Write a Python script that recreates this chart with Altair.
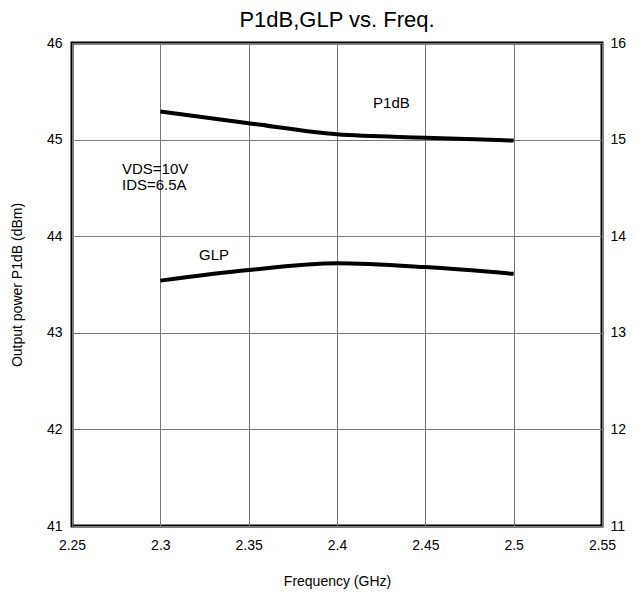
import altair as alt
import pandas as pd

freq = [2.3, 2.35, 2.4, 2.45, 2.5]
p1db = [45.29, 45.17, 45.055, 45.02, 44.99]
glp = [13.54, 13.65, 13.72, 13.68, 13.61]
x_ticks = [2.25, 2.3, 2.35, 2.4, 2.45, 2.5, 2.55]
left_ticks = [41, 42, 43, 44, 45, 46]
right_ticks = [11, 12, 13, 14, 15, 16]

df_p = pd.DataFrame({"freq": freq, "val": p1db})
df_g = pd.DataFrame({"freq": freq, "val": glp})

notes = pd.DataFrame({
    "freq": [2.4204, 2.2783, 2.2783, 2.3219],
    "val": [45.38, 44.70, 44.53, 43.805],
    "label": ["P1dB", "VDS=10V", "IDS=6.5A", "GLP"],
})

font = "Liberation Sans"
xscale = alt.Scale(domain=[2.25, 2.55], nice=False, zero=False)
left_scale = alt.Scale(domain=[41, 46], nice=False, zero=False)

xenc = alt.X("freq:Q", scale=xscale,
             axis=alt.Axis(values=x_ticks, format="~g", title="Frequency (GHz)", grid=True,
                           gridColor="#777777", gridWidth=1, ticks=False, domain=False,
                           labelPadding=12, labelFontSize=14, titleFontSize=14,
                           titlePadding=22, labelFont=font, titleFont=font,
                           titleFontWeight="normal", labelColor="black", titleColor="black",
                           labelFlush=False))

p_line = alt.Chart(df_p).mark_line(color="black", strokeWidth=4, interpolate="monotone").encode(
    x=xenc,
    y=alt.Y("val:Q", scale=left_scale,
            axis=alt.Axis(values=left_ticks, format="d", title="Output power P1dB (dBm)", grid=True,
                          gridColor="#777777", gridWidth=1, ticks=False, domain=False,
                          labelPadding=10, labelFontSize=14, titleFontSize=14,
                          titlePadding=22, labelFont=font, titleFont=font,
                          titleFontWeight="normal", labelColor="black", titleColor="black",
                          labelFlush=False)),
)

note_layer = alt.Chart(notes).mark_text(font=font, fontSize=15, align="left", color="black").encode(
    x=alt.X("freq:Q", scale=xscale),
    y=alt.Y("val:Q", scale=left_scale),
    text="label:N",
)

left_group = alt.layer(p_line, note_layer)

g_line = alt.Chart(df_g).mark_line(color="black", strokeWidth=4, interpolate="monotone").encode(
    x=alt.X("freq:Q", scale=xscale),
    y=alt.Y("val:Q", scale=alt.Scale(domain=[11, 16], nice=False, zero=False),
            axis=alt.Axis(orient="right", values=right_ticks, format="d", title=None, grid=False,
                          ticks=False, domain=False, labelPadding=8, labelFontSize=14,
                          labelFont=font, labelColor="black", labelFlush=False)),
)

chart = alt.layer(left_group, g_line).resolve_scale(y="independent").properties(
    width=530, height=483,
    title=alt.TitleParams("P1dB,GLP vs. Freq.", fontSize=22, font=font,
                          fontWeight="normal", color="black", offset=4, anchor="middle"),
    autosize=alt.AutoSizeParams(type="none"),
    padding={"left": 64, "top": 35, "right": 27, "bottom": 64},
).configure_view(stroke="black", strokeWidth=3)

chart.save("out.html", embed_options={"renderer": "svg", "actions": False})
